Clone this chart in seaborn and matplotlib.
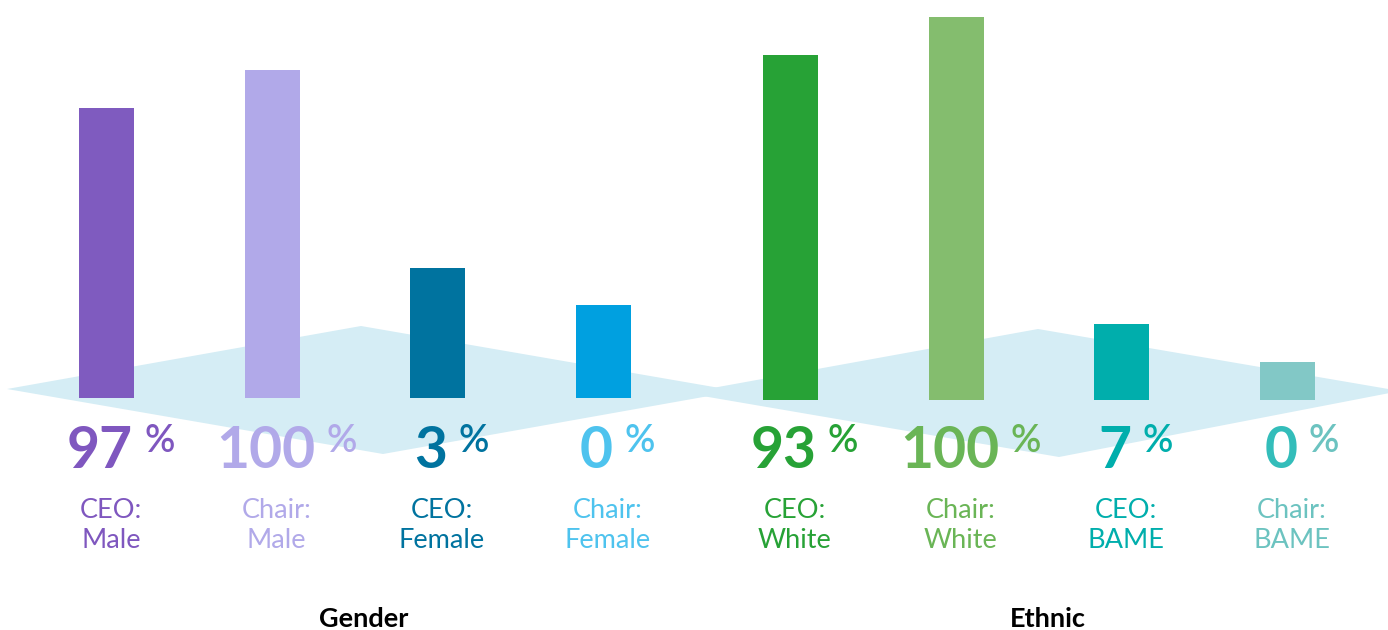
import matplotlib
matplotlib.use('Agg')
import matplotlib.pyplot as plt
import seaborn as sns
import pandas as pd
from matplotlib.patches import Polygon

# --- data ---
gender_labels = ['CEO:\nMale', 'Chair:\nMale', 'CEO:\nFemale', 'Chair:\nFemale']
gender_values = [97, 100, 3, 0]
gender_heights = [290, 328, 130, 93]      # drawn bar heights (illustrative, px)

ethnic_labels = ['CEO:\nWhite', 'Chair:\nWhite', 'CEO:\nBAME', 'Chair:\nBAME']
ethnic_values = [93, 100, 7, 0]
ethnic_heights = [345, 383, 76, 38]

group_titles = ['Gender', 'Ethnic']

# colours
gender_bar_colors = ['#7F5BBF', '#B1A9E9', '#00739F', '#00A0E0']
gender_num_colors = ['#7F57BF', '#B1A9E9', '#00739F', '#4EC3EE']
gender_lbl_colors = ['#7F57BF', '#B1A9E9', '#00739F', '#4EC3EE']
ethnic_bar_colors = ['#27A236', '#84BD6E', '#00AEAC', '#82C8C6']
ethnic_num_colors = ['#27A236', '#6AB556', '#00AEAC', '#33BDBA']
ethnic_lbl_colors = ['#27A236', '#6AB556', '#00AEAC', '#6CC3C0']
plane_color = '#D5EDF5'

sns.set_style('white')
plt.rcParams['font.family'] = ['Lato', 'DejaVu Sans']

W, H = 1388, 630
fig = plt.figure(figsize=(W / 100, H / 100), dpi=100)
fig.patch.set_facecolor('white')

# background "floor" planes, in pixel coords
bg = fig.add_axes([0, 0, 1, 1])
bg.set_xlim(0, W)
bg.set_ylim(H, 0)
bg.axis('off')
bg.add_patch(Polygon([(7, 389), (361, 326), (737, 391), (383, 454)],
                     closed=True, fc=plane_color, ec='none'))
bg.add_patch(Polygon([(685, 393), (1038, 329), (1400, 391), (1059, 457)],
                     closed=True, fc=plane_color, ec='none'))


def make_panel(left_px, right_px, base_px, labels, heights, bar_colors):
    ax = fig.add_axes([left_px / W, 0, (right_px - left_px) / W, 1])
    ax.patch.set_alpha(0)
    df = pd.DataFrame({'label': labels, 'height': heights})
    sns.barplot(data=df, x='label', y='height', hue='label', palette=bar_colors,
                order=labels, hue_order=labels, width=0.333, saturation=1,
                linewidth=0, legend=False, ax=ax)
    ax.set_xlim(-0.5, len(labels) - 0.5)
    ax.set_ylim(-(H - base_px), base_px)
    ax.axis('off')
    return ax


ax_g = make_panel(24, 686, 398, gender_labels, gender_heights, gender_bar_colors)
ax_e = make_panel(707.7, 1370.3, 400, ethnic_labels, ethnic_heights, ethnic_bar_colors)

panels = [
    (ax_g, 398, gender_labels, gender_values, gender_num_colors, gender_lbl_colors),
    (ax_e, 400, ethnic_labels, ethnic_values, ethnic_num_colors, ethnic_lbl_colors),
]

value_texts = []
for ax, base, labels, values, ncols, lcols in panels:
    for i, (lab, val) in enumerate(zip(labels, values)):
        num = ax.text(i, base - 468, str(val), ha='left', va='baseline',
                      fontsize=41, fontweight='bold', color=ncols[i])
        pct = ax.text(i, base - 452, '%', ha='left', va='baseline',
                      fontsize=27, fontweight='semibold', color=lcols[i])
        value_texts.append((ax, i, num, pct))
        line1, line2 = lab.split('\n')
        ax.annotate(line1, xy=(i, base - 518), xytext=(3, 0), textcoords='offset points',
                    ha='center', va='baseline', fontsize=19.5, color=lcols[i])
        ax.annotate(line2, xy=(i, base - 548), xytext=(3, 0), textcoords='offset points',
                    ha='center', va='baseline', fontsize=19.5, color=lcols[i])

for ax, title in zip([ax_g, ax_e], group_titles):
    ax.text(0.513, 3 / H, title, transform=ax.transAxes, ha='center', va='baseline',
            fontsize=19.5, fontweight='bold', color='black')

# centre "NN %" groups a little right of each bar
fig.canvas.draw()
r = fig.canvas.get_renderer()
gap, shift = 11, 14
for ax, i, num, pct in value_texts:
    wn = num.get_window_extent(r).width
    wp = pct.get_window_extent(r).width
    cx = ax.transData.transform((i, 0))[0]
    left = cx + shift - (wn + gap + wp) / 2
    inv = ax.transData.inverted()
    num.set_x(inv.transform((left, 0))[0])
    pct.set_x(inv.transform((left + wn + gap, 0))[0])

fig.savefig('out.png', dpi=100, facecolor='white')
